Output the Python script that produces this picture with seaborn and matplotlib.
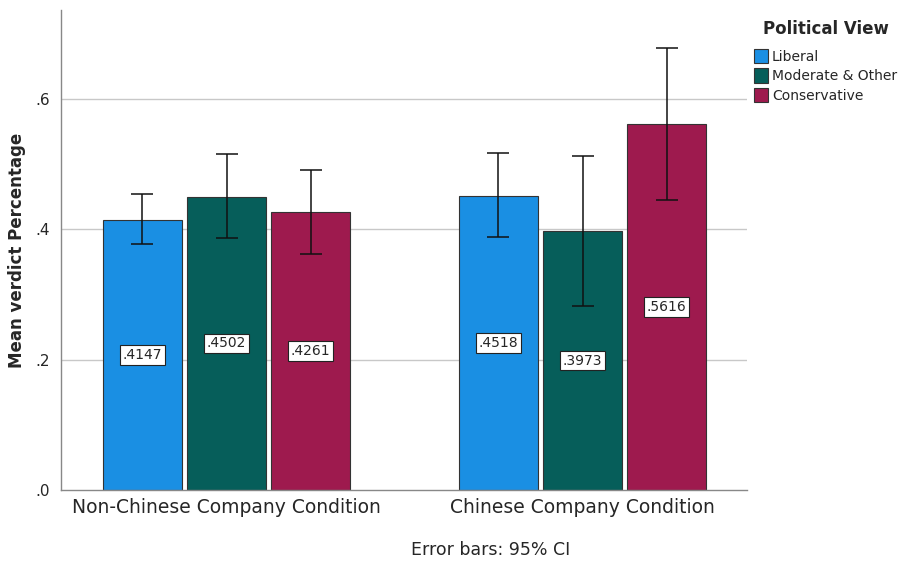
import seaborn as sns
import numpy as np
import pandas as pd
import matplotlib.pyplot as plt

# data
conditions = ['Non-Chinese Company Condition', 'Chinese Company Condition']
views = ['Liberal', 'Moderate & Other', 'Conservative']
liberal = [0.4147, 0.4518]
moderate = [0.4502, 0.3973]
conservative = [0.4261, 0.5616]
# 95% CI bounds
liberal_ci = [(0.378, 0.454), (0.388, 0.517)]
moderate_ci = [(0.387, 0.516), (0.283, 0.513)]
conservative_ci = [(0.362, 0.491), (0.446, 0.679)]

colors = ['#1A8FE3', '#065E5A', '#9E1A4E']

rows = []
for view, vals in zip(views, [liberal, moderate, conservative]):
    for cond, v in zip(conditions, vals):
        rows.append({'Condition': cond, 'Political View': view, 'Mean': v})
df = pd.DataFrame(rows)

sns.set_style('white')
plt.rcParams['font.family'] = ['DejaVu Sans']

fig = plt.figure(figsize=(9.06, 5.64), dpi=100)
ax = fig.add_axes([0.0673, 0.1312, 0.7572, 0.8511])

sns.barplot(data=df, x='Condition', y='Mean', hue='Political View',
            order=conditions, hue_order=views, palette=colors,
            errorbar=None, width=0.71, gap=0.06, saturation=1,
            edgecolor='#333333', linewidth=0.8, ax=ax, zorder=2)

# error bars + value labels
for cont, vals, cis in zip(ax.containers, [liberal, moderate, conservative],
                           [liberal_ci, moderate_ci, conservative_ci]):
    for bar, v, (lo, hi) in zip(cont, vals, cis):
        xc = bar.get_x() + bar.get_width() / 2
        ax.errorbar(xc, v, yerr=[[v - lo], [hi - v]], fmt='none',
                    ecolor='#111111', elinewidth=1.1, capsize=8,
                    capthick=1.1, zorder=4)
        ax.text(xc, v / 2, ('%.4f' % v)[1:], ha='center', va='center',
                fontsize=10, zorder=5,
                bbox=dict(boxstyle='square,pad=0.2', fc='white',
                          ec='#222222', lw=0.8))

ax.set_ylim(0, 0.737)
ax.set_xlim(-0.465, 1.462)
ax.set_yticks([0, 0.2, 0.4, 0.6])
ax.set_yticklabels(['.0', '.2', '.4', '.6'], fontsize=11)
ax.tick_params(axis='x', labelsize=13.5, length=0, pad=6)
ax.tick_params(axis='y', length=0, pad=8)
for y in [0.2, 0.4, 0.6]:
    ax.axhline(y, color='#c8c8c8', lw=1, zorder=1)
ax.set_xlabel('')
ax.set_ylabel('Mean verdict Percentage', fontsize=12, fontweight='bold',
              labelpad=7)
sns.despine(ax=ax, top=True, right=True)
for s in ['left', 'bottom']:
    ax.spines[s].set_color('#888888')
    ax.spines[s].set_linewidth(1)

ax.get_legend().remove()
handles = [plt.Rectangle((0, 0), 1, 1, fc=c, ec='#333333', lw=0.8) for c in colors]
leg = fig.legend(handles, views, loc='upper left', bbox_to_anchor=(0.826, 0.975),
                 frameon=False, fontsize=10, title='Political View',
                 title_fontproperties={'weight': 'bold', 'size': 12},
                 handlelength=1.0, handleheight=1.2, handletextpad=0.3,
                 labelspacing=0.35, borderaxespad=0)
leg._legend_box.sep = 8

fig.text(0.541, 0.025, 'Error bars: 95% CI', ha='center', va='center', fontsize=12.5)

fig.savefig('out.png', dpi=100)
